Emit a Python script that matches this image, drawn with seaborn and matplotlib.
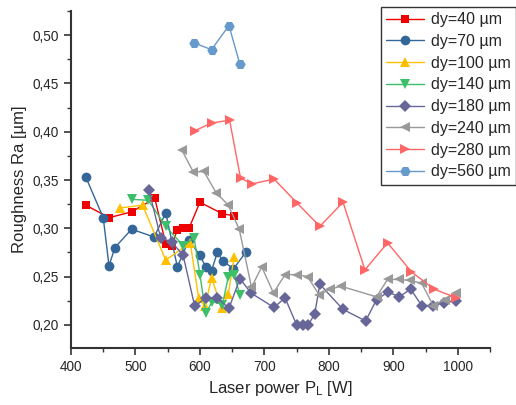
import numpy as np
import pandas as pd
import matplotlib
matplotlib.use('Agg')
import matplotlib.pyplot as plt
import seaborn as sns
from matplotlib.ticker import AutoMinorLocator, FuncFormatter, MultipleLocator

# данные: мощность лазера [W] и шероховатость Ra [µm]
p_40 = [423, 459, 494, 530, 547, 556, 565, 574, 583, 600, 635, 653]
ra_40 = [0.324, 0.311, 0.317, 0.331, 0.284, 0.282, 0.298, 0.300, 0.300, 0.327, 0.315, 0.313]

p_70 = [423, 450, 459, 468, 494, 529, 547, 565, 583, 600, 609, 618, 627, 636, 652, 671]
ra_70 = [0.353, 0.311, 0.261, 0.280, 0.299, 0.291, 0.316, 0.260, 0.288, 0.272,
         0.260, 0.256, 0.275, 0.266, 0.258, 0.275]

p_100 = [476, 511, 547, 585, 598, 608, 618, 634, 644, 653]
ra_100 = [0.321, 0.324, 0.267, 0.285, 0.228, 0.219, 0.249, 0.217, 0.232, 0.270]

p_140 = [494, 520, 547, 574, 591, 600, 609, 619, 635, 644, 653, 662]
ra_140 = [0.330, 0.329, 0.302, 0.282, 0.290, 0.252, 0.212, 0.224, 0.221, 0.250, 0.252, 0.231]

p_180 = [521, 539, 556, 574, 592, 609, 627, 645, 662, 679, 715, 732, 750, 760, 768,
         778, 786, 822, 857, 874, 892, 909, 927, 944, 962, 979, 998]
ra_180 = [0.340, 0.290, 0.286, 0.272, 0.219, 0.228, 0.228, 0.217, 0.248, 0.233,
          0.218, 0.228, 0.200, 0.200, 0.200, 0.211, 0.242, 0.216, 0.204, 0.226,
          0.234, 0.229, 0.237, 0.220, 0.220, 0.223, 0.225]

p_240 = [572, 590, 606, 625, 644, 661, 680, 696, 714, 732, 750, 767, 785, 802, 819,
         874, 891, 909, 926, 944, 962, 980, 998]
ra_240 = [0.381, 0.358, 0.359, 0.337, 0.324, 0.299, 0.239, 0.260, 0.233, 0.252,
          0.252, 0.250, 0.231, 0.237, 0.240, 0.229, 0.247, 0.247, 0.246, 0.243,
          0.220, 0.226, 0.233]

p_280 = [592, 618, 646, 663, 681, 715, 751, 786, 822, 856, 891, 928, 963, 998]
ra_280 = [0.401, 0.409, 0.412, 0.352, 0.346, 0.351, 0.326, 0.302, 0.327, 0.257,
          0.285, 0.255, 0.237, 0.228]

p_560 = [591, 618, 645, 662]
ra_560 = [0.492, 0.485, 0.510, 0.470]

labels = ['dy=40 µm', 'dy=70 µm', 'dy=100 µm', 'dy=140 µm',
          'dy=180 µm', 'dy=240 µm', 'dy=280 µm', 'dy=560 µm']
colors = ['#EE0000', '#336699', '#FFC000', '#3DBE6B',
          '#666699', '#999999', '#FF6666', '#6699CC']
markers = ['s', 'o', '^', 'v', 'D', '<', '>', 'H']
sizes = [6, 7, 7.5, 7.5, 6, 7.5, 7.5, 7.5]

series = [(p_40, ra_40), (p_70, ra_70), (p_100, ra_100), (p_140, ra_140),
          (p_180, ra_180), (p_240, ra_240), (p_280, ra_280), (p_560, ra_560)]

frames = []
for lab, (p, ra) in zip(labels, series):
    frames.append(pd.DataFrame({'P': p, 'Ra': ra, 'dy': lab}))
df = pd.concat(frames, ignore_index=True)

sns.set_theme(style='ticks')
plt.rcParams['font.family'] = ['Liberation Sans', 'DejaVu Sans']
plt.rcParams['mathtext.default'] = 'regular'

fig = plt.figure(figsize=(5.16, 4.05), dpi=100)
ax = fig.add_axes([0.1376, 0.1407, 0.812, 0.832])

for lab, col, mk, ms in zip(labels, colors, markers, sizes):
    sub = df[df['dy'] == lab]
    sns.lineplot(data=sub, x='P', y='Ra', ax=ax, color=col, marker=mk,
                 markersize=ms, markeredgewidth=0, linewidth=1,
                 sort=False, estimator=None, label=lab)

ax.set_xlim(400, 1050)
ax.set_ylim(0.176, 0.525)
ax.xaxis.set_major_locator(MultipleLocator(100))
ax.yaxis.set_major_locator(MultipleLocator(0.05))
ax.xaxis.set_minor_locator(AutoMinorLocator(2))
ax.yaxis.set_minor_locator(AutoMinorLocator(2))
ax.yaxis.set_major_formatter(FuncFormatter(lambda v, pos: f'{v:.2f}'.replace('.', ',')))

ax.set_xlabel('Laser power P$_L$ [W]', fontsize=12)
ax.set_ylabel('Roughness Ra [µm]', fontsize=12)

sns.despine(ax=ax)
for s in ['left', 'bottom']:
    ax.spines[s].set_linewidth(1.5)
    ax.spines[s].set_color('#333333')
ax.tick_params(which='major', direction='out', length=5, width=1.2, labelsize=9.8, color='#333333')
ax.tick_params(which='minor', direction='out', length=3, width=1, color='#333333')

handles, labs = ax.get_legend_handles_labels()
leg = ax.legend(handles, labs, loc='upper right', bbox_to_anchor=(1.063, 1.013),
                fontsize=11.5, frameon=True, fancybox=False, edgecolor='#333333',
                framealpha=1, handlelength=2.35, labelspacing=0.42, borderpad=0.35,
                handletextpad=0.45, borderaxespad=0)
leg.get_frame().set_linewidth(1.0)

fig.savefig('out.png', dpi=100)
